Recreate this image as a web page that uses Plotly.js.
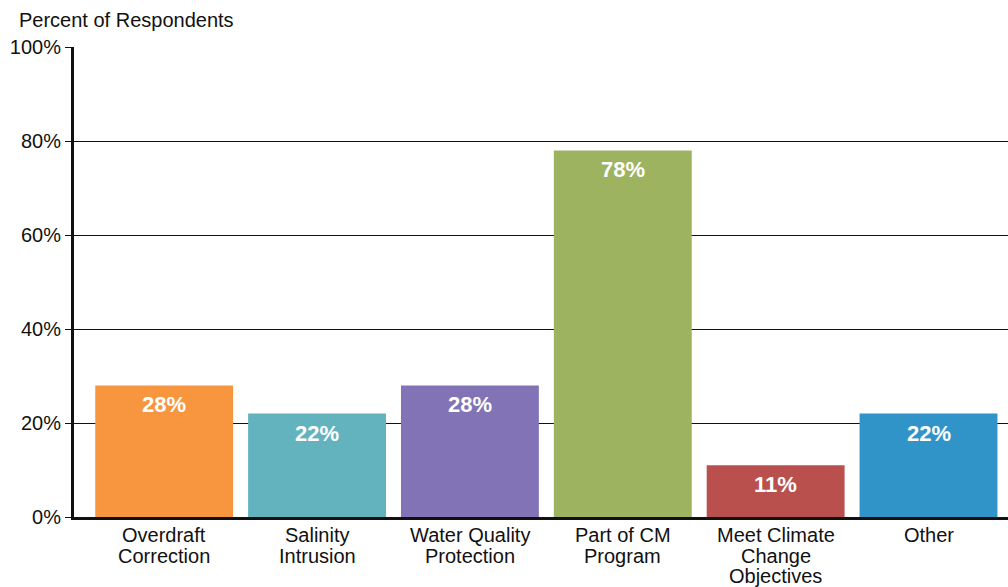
<!DOCTYPE html>
<html>
<head>
<meta charset="utf-8">
<script src="https://cdn.plot.ly/plotly-3.0.1.min.js"></script>
<style>html,body{margin:0;padding:0;background:#fff;}#chart{width:1008px;height:587px;}</style>
</head>
<body>
<div id="chart"></div>
<script>
const categories = ["Overdraft<br>Correction", "Salinity<br>Intrusion", "Water Quality<br>Protection", "Part of CM<br>Program", "Meet Climate<br>Change<br>Objectives", "Other"];
const values = [28, 22, 28, 78, 11, 22];
const barColors = ["#F7963F", "#63B3BE", "#8173B6", "#9DB360", "#B9504D", "#3194C8"];
const yTickVals = [0, 20, 40, 60, 80, 100];
const yTickText = ["0%", "20%", "40%", "60%", "80%", "100%"];

const FONT = "Liberation Sans, Arial, Helvetica, sans-serif";
const xIdx = categories.map((c, i) => i);

const trace = {
  type: "bar",
  x: xIdx,
  y: values,
  marker: {color: barColors},
  hoverinfo: "none"
};

const annotations = values.map((v, i) => ({
  x: i, y: v, xref: "x", yref: "y",
  text: "<b>" + v + "%</b>",
  showarrow: false, yanchor: "top", yshift: -5,
  font: {family: FONT, size: 22, color: "#ffffff"}
}));

// category labels, one annotation per line for tight line spacing
categories.forEach((c, i) => {
  c.split("<br>").forEach((line, k) => {
    annotations.push({
      x: i, y: 0, xref: "x", yref: "y",
      text: line, showarrow: false,
      xanchor: "center", yanchor: "middle",
      yshift: -18 - k * 20.7,
      font: {family: FONT, size: 20, color: "#111"}
    });
  });
});

annotations.push({
  xref: "paper", yref: "paper", x: -0.061, y: 1.0, yshift: 27,
  xanchor: "left", yanchor: "middle",
  text: "Percent of Respondents", showarrow: false,
  font: {family: FONT, size: 20, color: "#111"}
});

const layout = {
  width: 1008, height: 587,
  margin: {l: 74, r: 0, t: 47, b: 70},
  paper_bgcolor: "#fff", plot_bgcolor: "#fff",
  showlegend: false,
  bargap: 0.098,
  font: {family: FONT, size: 20, color: "#111"},
  xaxis: {
    range: [-0.59, 5.52],
    tickvals: xIdx,
    showticklabels: false,
    showline: true, linecolor: "#111", linewidth: 3,
    ticks: "", showgrid: false, zeroline: false
  },
  yaxis: {
    range: [0, 100],
    tickvals: yTickVals, ticktext: yTickText,
    showline: true, linecolor: "#111", linewidth: 3,
    ticks: "outside", ticklen: 6, tickcolor: "#111", tickwidth: 1,
    showgrid: true, gridcolor: "#111", gridwidth: 1,
    zeroline: false,
    tickfont: {size: 20}
  },
  annotations: annotations
};

Plotly.newPlot("chart", [trace], layout, {displayModeBar: false, staticPlot: true});
</script>
</body>
</html>
